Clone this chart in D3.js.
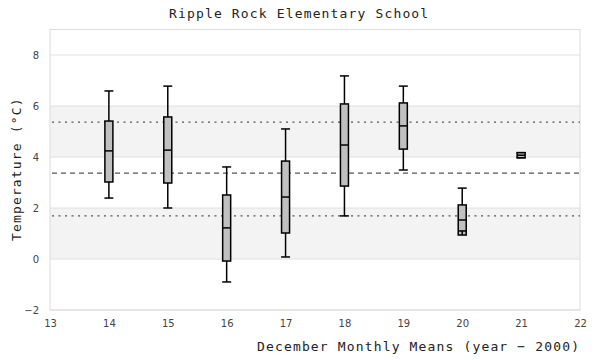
<!DOCTYPE html>
<html>
<head>
<meta charset="utf-8">
<script src="https://cdn.jsdelivr.net/npm/d3@7"></script>
<style>
  body { margin: 0; background: #fff; }
  svg { display: block; }
</style>
</head>
<body>
<svg id="chart" width="600" height="360"></svg>
<script>
const years       = [14, 15, 16, 17, 18, 19, 20, 21];
const whiskerLow  = [2.39, 2.00, -0.90, 0.08, 1.69, 3.49, 1.10, 3.97];
const q1          = [3.02, 2.98, -0.08, 1.02, 2.86, 4.31, 0.94, 3.97];
const median      = [4.24, 4.27, 1.22, 2.43, 4.47, 5.22, 1.53, 4.07];
const q3          = [5.41, 5.57, 2.51, 3.84, 6.08, 6.12, 2.12, 4.17];
const whiskerHigh = [6.59, 6.78, 3.61, 5.10, 7.18, 6.78, 2.78, 4.17];

const refMean  = 3.37;
const refUpper = 5.37;
const refLower = 1.69;

const xTicks = [13, 14, 15, 16, 17, 18, 19, 20, 21, 22];
const yTicks = [-2, 0, 2, 4, 6, 8];
const bands  = [[0, 2], [4, 6]];

const titleText = "Ripple Rock Elementary School";
const xTitle = "December Monthly Means (year \u2212 2000)";
const yTitle = "Temperature (\u00B0C)";

const svg = d3.select("#chart");
const x = d3.scaleLinear().domain([13, 22]).range([50, 580]);
const y = d3.scaleLinear().domain([-2, 9]).range([310, 29.5]);

const monoFont = "'DejaVu Sans Mono', 'Liberation Mono', monospace";

// bands
svg.append("g").selectAll("rect").data(bands).join("rect")
  .attr("x", x(13)).attr("width", x(22) - x(13))
  .attr("y", d => y(d[1])).attr("height", d => y(d[0]) - y(d[1]))
  .attr("fill", "#f3f3f3");

// gridlines
svg.append("g").selectAll("line").data(yTicks).join("line")
  .attr("x1", x(13)).attr("x2", x(22))
  .attr("y1", d => y(d)).attr("y2", d => y(d))
  .attr("stroke", "#e0e0e0").attr("stroke-width", 1);

// frame
svg.append("rect")
  .attr("x", x(13)).attr("y", y(9))
  .attr("width", x(22) - x(13)).attr("height", y(-2) - y(9))
  .attr("fill", "none").attr("stroke", "#dcdcdc").attr("stroke-width", 1);

// reference lines
const refs = [
  {v: refUpper, dash: "2,4.5"},
  {v: refMean, dash: "5,4"},
  {v: refLower, dash: "2,4.5"}
];
svg.append("g").selectAll("line").data(refs).join("line")
  .attr("x1", x(13) + 2).attr("x2", x(22))
  .attr("y1", d => y(d.v)).attr("y2", d => y(d.v))
  .attr("stroke", "#555").attr("stroke-width", 1.2)
  .attr("stroke-dasharray", d => d.dash);

// axes
const xAxis = d3.axisBottom(x).tickValues(xTicks).tickSize(0).tickPadding(10).tickFormat(d3.format("d"));
const gx = svg.append("g").attr("transform", `translate(0,${y(-2)})`).call(xAxis);
gx.select(".domain").remove();
gx.selectAll("text").attr("font-family", "'DejaVu Sans', sans-serif").attr("font-size", 10).attr("fill", "#444");

const yAxis = d3.axisLeft(y).tickValues(yTicks).tickSize(0).tickPadding(11).tickFormat(d3.format("d"));
const gy = svg.append("g").attr("transform", `translate(${x(13)},0)`).call(yAxis);
gy.select(".domain").remove();
gy.selectAll("text").attr("font-family", "'DejaVu Sans', sans-serif").attr("font-size", 10).attr("fill", "#444");

// boxes
const data = years.map((yr, i) => ({
  yr, lo: whiskerLow[i], q1: q1[i], med: median[i], q3: q3[i], hi: whiskerHigh[i]
}));
const boxW = 8, capW = 9;
const g = svg.append("g").attr("stroke", "#000").attr("stroke-width", 1.5);
const bx = g.selectAll("g").data(data).join("g");
// upper whisker
bx.append("line")
  .attr("x1", d => x(d.yr)).attr("x2", d => x(d.yr))
  .attr("y1", d => y(d.q3)).attr("y2", d => y(d.hi));
// caps
bx.append("line")
  .attr("x1", d => x(d.yr) - capW / 2).attr("x2", d => x(d.yr) + capW / 2)
  .attr("y1", d => y(d.hi)).attr("y2", d => y(d.hi));
// box
bx.append("rect")
  .attr("x", d => x(d.yr) - boxW / 2).attr("width", boxW)
  .attr("y", d => y(d.q3)).attr("height", d => y(d.q1) - y(d.q3))
  .attr("fill", "#c0c0c0");
// lower whisker (drawn over the box, as in the reference)
bx.append("line")
  .attr("x1", d => x(d.yr)).attr("x2", d => x(d.yr))
  .attr("y1", d => y(d.q1)).attr("y2", d => y(d.lo));
bx.append("line")
  .attr("x1", d => x(d.yr) - (d.lo > d.q1 ? boxW / 2 : capW / 2))
  .attr("x2", d => x(d.yr) + (d.lo > d.q1 ? boxW / 2 : capW / 2))
  .attr("y1", d => y(d.lo)).attr("y2", d => y(d.lo));
// median
bx.append("line")
  .attr("x1", d => x(d.yr) - boxW / 2).attr("x2", d => x(d.yr) + boxW / 2)
  .attr("y1", d => y(d.med)).attr("y2", d => y(d.med));

// titles
const titleStyle = sel => sel
  .attr("font-family", monoFont).attr("font-size", 13)
  .attr("letter-spacing", "1.15px").attr("fill", "#222");

svg.append("text").attr("x", 169).attr("y", 18).call(titleStyle).text(titleText);
svg.append("text").attr("x", 257).attr("y", 351).call(titleStyle).text(xTitle);
svg.append("text")
  .attr("transform", "translate(21,241) rotate(-90)")
  .call(titleStyle).text(yTitle);
</script>
</body>
</html>
